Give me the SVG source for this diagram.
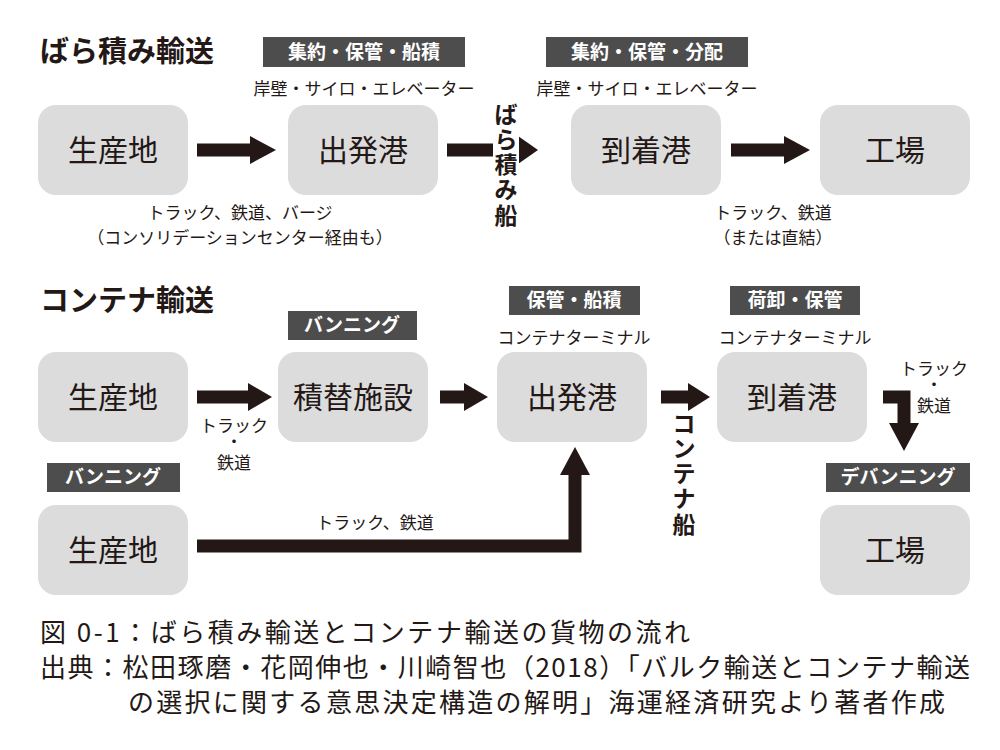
<svg xmlns="http://www.w3.org/2000/svg" width="1000" height="750" viewBox="0 0 1000 750">
<style>
text{font-family:"Noto Sans CJK JP","Liberation Sans",sans-serif;fill:#231815}
.n rect{fill:#dcdcdd}
.n text{font-size:30px;text-anchor:middle}
.tag rect{fill:#4d4d4d}
.tag text{fill:#fff;font-size:19px;font-weight:bold;text-anchor:middle}
.s{font-size:17px;text-anchor:middle}
.h{font-size:29px;font-weight:bold}
.c{font-size:26px}
.v{font-size:23px;font-weight:bold;text-anchor:middle}
.a{fill:none;stroke:#231815;stroke-width:13}
.ah{fill:#231815}
</style>
<rect width="1000" height="750" fill="#fff"/>
<text class="h" x="40" y="62">ばら積み輸送</text>
<text class="h" x="40" y="311">コンテナ輸送</text>
<g class="tag"><rect x="263" y="37" width="202" height="30"/><text x="364" y="59">集約・保管・船積</text></g>
<g class="tag"><rect x="546" y="37" width="202" height="30"/><text x="647" y="59">集約・保管・分配</text></g>
<text class="s" x="364" y="95">岸壁・サイロ・エレベーター</text>
<text class="s" x="647" y="95">岸壁・サイロ・エレベーター</text>
<g id="n1" class="n"><rect x="38" y="105" width="150" height="90" rx="18"/><text x="113" y="161">生産地</text></g>
<g id="n2" class="n"><rect x="288" y="105" width="150" height="90" rx="18"/><text x="363" y="161">出発港</text></g>
<g id="n3" class="n"><rect x="571" y="105" width="150" height="90" rx="18"/><text x="646" y="161">到着港</text></g>
<g id="n4" class="n"><rect x="820" y="105" width="150" height="90" rx="18"/><text x="895" y="161">工場</text></g>
<text class="s" x="240" y="219">トラック、鉄道、バージ</text>
<text class="s" x="240" y="244">（コンソリデーションセンター経由も）</text>
<text class="s" x="773" y="219">トラック、鉄道</text>
<text class="s" x="773" y="244">（または直結）</text>
<g class="tag"><rect x="288" y="311" width="129" height="29"/><text x="352" y="332">バンニング</text></g>
<g class="tag"><rect x="509" y="286" width="131" height="29"/><text x="574" y="307">保管・船積</text></g>
<g class="tag"><rect x="730" y="286" width="130" height="29"/><text x="795" y="307">荷卸・保管</text></g>
<g class="tag"><rect x="47" y="463" width="133" height="29"/><text x="113" y="484">バンニング</text></g>
<g class="tag"><rect x="826" y="463" width="144" height="29"/><text x="898" y="484">デバンニング</text></g>
<text class="s" x="574" y="344">コンテナターミナル</text>
<text class="s" x="795" y="344">コンテナターミナル</text>
<g id="m1" class="n"><rect x="38" y="352" width="150" height="90" rx="18"/><text x="113" y="408">生産地</text></g>
<g id="m2" class="n"><rect x="278" y="352" width="150" height="90" rx="18"/><text x="353" y="408">積替施設</text></g>
<g id="m3" class="n"><rect x="497" y="352" width="150" height="90" rx="18"/><text x="572" y="408">出発港</text></g>
<g id="m4" class="n"><rect x="717" y="352" width="150" height="90" rx="18"/><text x="792" y="408">到着港</text></g>
<g id="m5" class="n"><rect x="38" y="505" width="150" height="90" rx="18"/><text x="113" y="561">生産地</text></g>
<g id="m6" class="n"><rect x="820" y="505" width="150" height="90" rx="18"/><text x="895" y="561">工場</text></g>
<g id="connectors">
<path class="a" d="M197 150H252"/><polygon class="ah" points="250,136 276,150 250,164"/>
<path class="a" d="M447 150H520"/><polygon class="ah" points="518,136 538,150 518,164"/>
<path class="a" d="M731 150H786"/><polygon class="ah" points="784,136 810,150 784,164"/>
<path class="a" d="M197 397H250"/><polygon class="ah" points="248,383 272,397 248,411"/>
<path class="a" d="M440 397H466"/><polygon class="ah" points="464,383 488,397 464,411"/>
<path class="a" d="M661 397H690"/><polygon class="ah" points="688,383 710,397 688,411"/>
<path class="a" d="M883 397H904V425"/><polygon class="ah" points="889,423 919,423 904,451"/>
<path class="a" d="M197 546H575V472"/><polygon class="ah" points="560,475 590,475 575,447"/>
</g>
<rect x="493" y="103" width="26" height="127" fill="#fff"/>
<g class="v"><text x="506" y="123">ば</text><text x="506" y="148">ら</text><text x="506" y="173">積</text><text x="506" y="198">み</text><text x="506" y="224">船</text></g>
<g class="v"><text x="684" y="432">コ</text><text x="684" y="457">ン</text><text x="684" y="482">テ</text><text x="684" y="507">ナ</text><text x="684" y="533">船</text></g>
<text class="s" x="234" y="432">トラック</text><text class="s" x="234" y="448" font-size="12">・</text><text class="s" x="234" y="469">鉄道</text>
<text class="s" x="934" y="375">トラック</text><text class="s" x="934" y="391" font-size="12">・</text><text class="s" x="934" y="412">鉄道</text>
<text class="s" x="375" y="529">トラック、鉄道</text>
<text class="c" x="40" y="642" textLength="650" lengthAdjust="spacing">図 0-1：ばら積み輸送とコンテナ輸送の貨物の流れ</text>
<text class="c" x="40" y="677" textLength="930" lengthAdjust="spacing">出典：松田琢磨・花岡伸也・川崎智也（2018）「バルク輸送とコンテナ輸送</text>
<text class="c" x="128" y="712" textLength="817" lengthAdjust="spacing">の選択に関する意思決定構造の解明」海運経済研究より著者作成</text>
</svg>
